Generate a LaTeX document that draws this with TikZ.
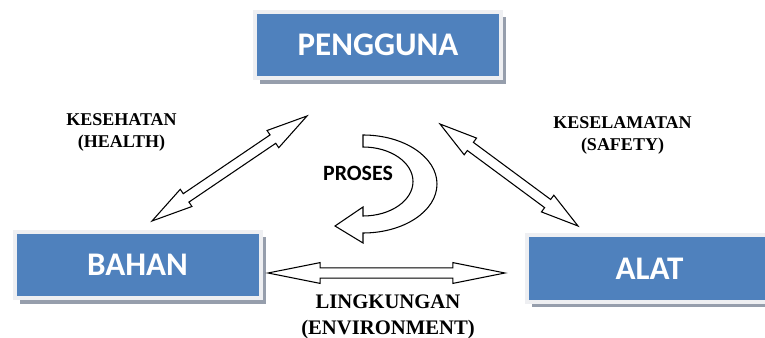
\documentclass[tikz,border=0pt]{standalone}
\usepackage{fontspec}
\setmainfont{Liberation Serif}
\newfontfamily\boxfont{Carlito}
\usetikzlibrary{calc,shadows}

\definecolor{boxblue}{RGB}{79,129,189}
\definecolor{boxrim}{RGB}{238,239,242}
\definecolor{boxshade}{RGB}{150,158,172}

% hollow two-headed block arrow between two named points
\newcommand{\twowayarrow}[2]{%
\draw [blockarrow] (#1)
  -- ($(#1)!0.22!(#2)!7.8pt!90:(#2)$) -- ($(#1)!0.22!(#2)!3.8pt!90:(#2)$)
  -- ($(#2)!0.22!(#1)!3.8pt!-90:(#1)$) -- ($(#2)!0.22!(#1)!7.8pt!-90:(#1)$)
  -- (#2)
  -- ($(#2)!0.22!(#1)!7.8pt!90:(#1)$) -- ($(#2)!0.22!(#1)!3.8pt!90:(#1)$)
  -- ($(#1)!0.22!(#2)!3.8pt!-90:(#2)$) -- ($(#1)!0.22!(#2)!7.8pt!-90:(#2)$)
  -- cycle;}

\begin{document}
\begin{tikzpicture}[x=0.75pt,y=0.75pt,yscale=-1,xscale=1,
  box/.style={draw=boxrim, line width=3pt, fill=boxblue, text=white,
    minimum width=184.5pt, minimum height=50pt, inner sep=0pt,
    font=\boxfont\bfseries\fontsize{24.75}{28}\selectfont,
    drop shadow={shadow xshift=4pt, shadow yshift=-4pt, fill=boxshade, opacity=1}},
  caption/.style={align=center, inner sep=0.75pt, text=black},
  blockarrow/.style={draw=black, fill=white, line width=0.8pt, line join=miter}]
\useasboundingbox (0,0) rectangle (765,338);

%Shape: Rectangle [id:pengguna]
\node (pengguna) [box] at (378,45) {PENGGUNA};
%Shape: Rectangle [id:bahan]
\node (bahan) [box] at (137.5,265) {BAHAN};
%Shape: Rectangle [id:alat]
\node (alat) [box] at (649.5,268.5) {ALAT};

% Text Node
\node (health) [caption, font=\bfseries\fontsize{13.5}{16.5}\selectfont] at (121.5,132) {KESEHATAN\\(HEALTH)};
% Text Node
\node (safety) [caption, font=\bfseries\fontsize{13.5}{16.5}\selectfont] at (622.5,135.5) {KESELAMATAN\\(SAFETY)};
% Text Node
\node (environment) [caption, font=\bfseries\fontsize{15.5}{19.5}\selectfont] at (388,316.5) {LINGKUNGAN\\(ENVIRONMENT)};
% Text Node
\node (proses) [caption, font=\boxfont\bfseries\fontsize{16.4}{19}\selectfont] at (358,173) {PROSES};

%Straight Lines [id:health]
\coordinate (healthlow) at (152,221);
\coordinate (healthhigh) at (307,116);
\twowayarrow{healthlow}{healthhigh}
%Straight Lines [id:safety]
\coordinate (safetyhigh) at (440,124);
\coordinate (safetylow) at (578,226);
\twowayarrow{safetyhigh}{safetylow}
%Straight Lines [id:environment]
\coordinate (envleft) at (268,273);
\coordinate (envright) at (505,273);
\twowayarrow{envleft}{envright}

%Curve Lines [id:proses]
\draw [blockarrow] (363,135) arc [start angle=-90, end angle=90, x radius=74, y radius=49]
  -- (363,243) -- (335,226) -- (363,207) -- (363,216)
  arc [start angle=90, end angle=-90, x radius=50, y radius=34.5] -- cycle;

\end{tikzpicture}
\end{document}
